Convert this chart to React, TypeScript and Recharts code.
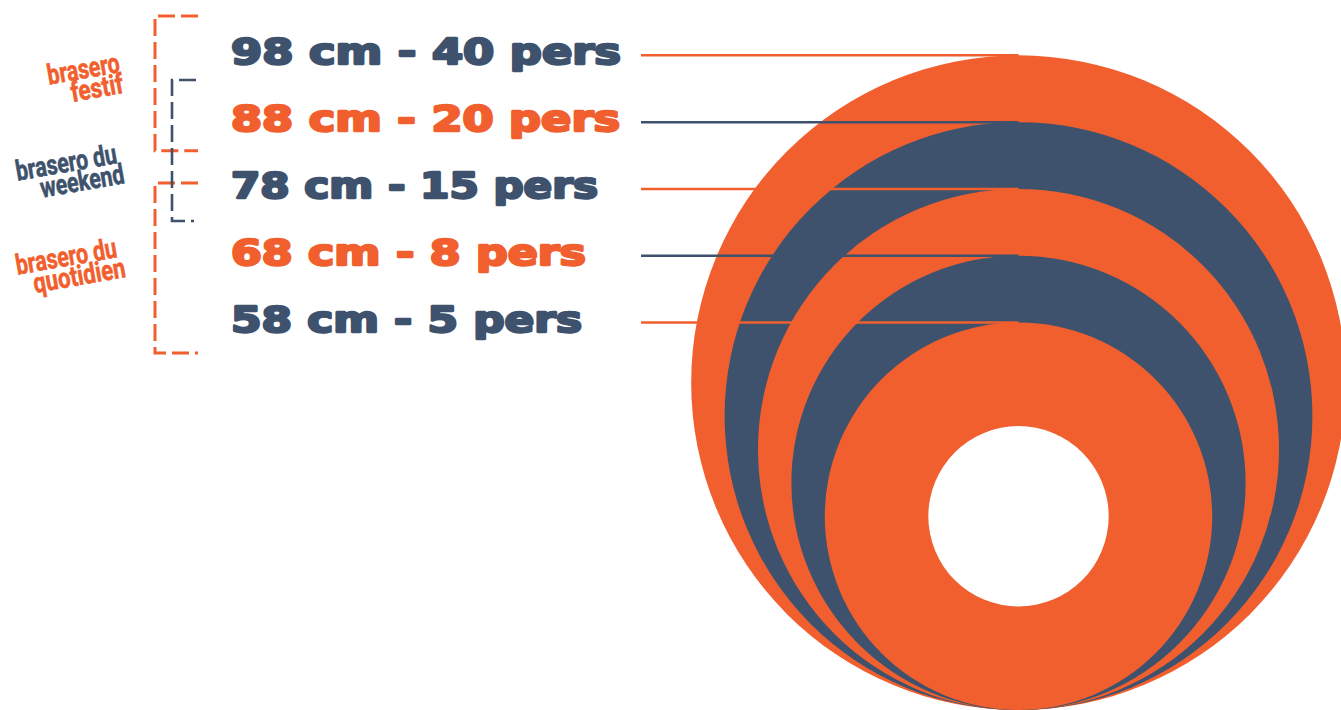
import React from "react";
import { ScatterChart, Scatter, XAxis, YAxis, Customized } from "recharts";

// brasero sizes (diameter in cm) and how many people each one serves
const diameters = [98, 88, 78, 68, 58];
const guests = [40, 20, 15, 8, 5];
const holeDiameter = 27;
const groupNames = [
  ["brasero", "festif"],
  ["brasero du", "weekend"],
  ["brasero du", "quotidien"],
];

const ORANGE = "#F15F2E";
const BLUE = "#3E526D";
const W = 1341;
const H = 710;
const PX_PER_CM = 6.68;
const CENTER_X = 1018.5;

const rings = diameters.map((d, i) => ({
  x: 0,
  y: d / 2,
  d,
  i,
  text: `${d} cm - ${guests[i]} pers`,
}));
const hole = [{ x: 0, y: diameters[diameters.length - 1] / 2, d: holeDiameter }];

// layout of the text column
const LABEL_X = 231;
const LEADER_X = 641;
const labelWidths = [390, 389, 367, 355, 351];

const Ring = (props: any) => {
  const { cx, cy, payload } = props;
  const k = (H - cy) / payload.y;
  const r = (payload.d / 2) * k;
  const top = cy - r;
  const fill = payload.i % 2 === 0 ? ORANGE : BLUE;
  const ink = payload.i % 2 === 0 ? BLUE : ORANGE;
  return (
    <g>
      <circle cx={cx} cy={cy} r={r} fill={fill} />
      <line x1={LEADER_X} x2={cx} y1={top} y2={top} stroke={fill} strokeWidth={2.5} />
      <text
        x={LABEL_X}
        y={top + 9}
        fill={ink}
        stroke={ink}
        strokeWidth={2.4}
        strokeLinejoin="round"
        fontFamily="'DejaVu Sans', sans-serif"
        fontWeight={900}
        fontSize={35}
        textLength={labelWidths[payload.i]}
        lengthAdjust="spacingAndGlyphs"
      >
        {payload.text}
      </text>
    </g>
  );
};

const Hole = (props: any) => {
  const { cx, cy, payload } = props;
  const k = (H - cy) / payload.y;
  return <circle cx={cx} cy={cy} r={(payload.d / 2) * k} fill="#ffffff" />;
};

const brackets = [
  { d: "M198,16 H155 V150.7 H198", color: ORANGE, w: 3 },
  { d: "M198,183 H155 V353 H198", color: ORANGE, w: 3 },
  { d: "M196,80 H172 V221 H194", color: BLUE, w: 2.6 },
];
const groupLabels = [
  { x: 121, y: 72, color: ORANGE, widths: [73, 53], shift: 0 },
  { x: 118, y: 163, color: BLUE, widths: [102, 85], shift: 4 },
  { x: 118, y: 257, color: ORANGE, widths: [102, 93], shift: 5 },
];

const Decor = () => (
  <g>
    {brackets.map((b, i) => (
      <path key={i} d={b.d} fill="none" stroke={b.color} strokeWidth={b.w} strokeDasharray="17 6" />
    ))}
    {groupLabels.map((g, i) => (
      <g key={i} transform={`translate(${g.x},${g.y}) rotate(-10)`}>
        {groupNames[i].map((t, j) => (
          <text
            key={j}
            x={j === 0 ? 0 : g.shift}
            y={j * 21}
            textAnchor="end"
            fill={g.color}
            stroke={g.color}
            strokeWidth={0.6}
            fontFamily="Roboto, sans-serif"
            fontWeight={700}
            fontSize={28}
            textLength={g.widths[j]}
            lengthAdjust="spacingAndGlyphs"
          >
            {t}
          </text>
        ))}
      </g>
    ))}
  </g>
);

export default function App() {
  return (
    <div style={{ position: "absolute", left: 0, top: 0, width: W, height: H, background: "#fff" }}>
      <ScatterChart width={W} height={H} margin={{ top: 0, right: 0, bottom: 0, left: 0 }}>
        <XAxis
          type="number"
          dataKey="x"
          hide
          domain={[-CENTER_X / PX_PER_CM, (W - CENTER_X) / PX_PER_CM]}
        />
        <YAxis type="number" dataKey="y" hide domain={[0, H / PX_PER_CM]} />
        <Customized component={Decor} />
        <Scatter data={rings} shape={Ring} isAnimationActive={false} />
        <Scatter data={hole} shape={Hole} isAnimationActive={false} />
      </ScatterChart>
    </div>
  );
}
